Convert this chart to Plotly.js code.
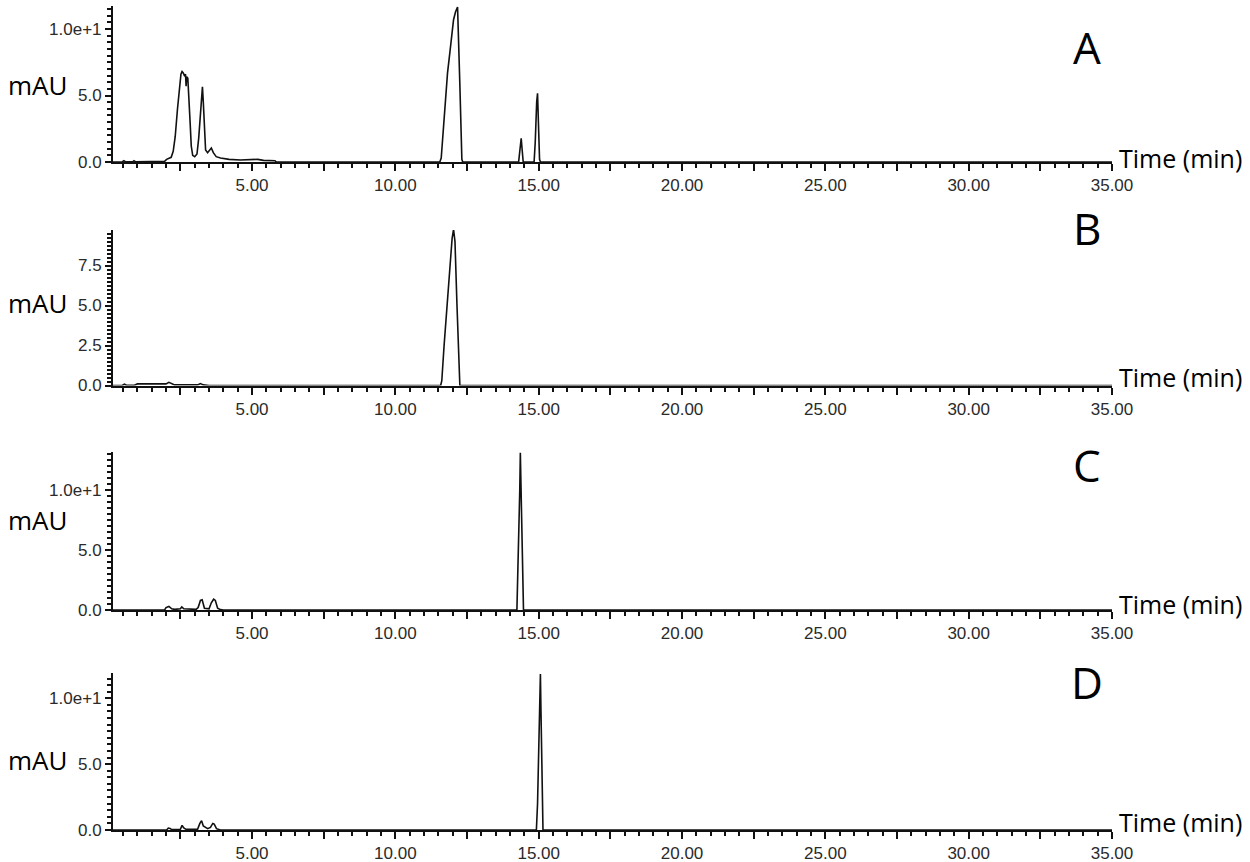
<!DOCTYPE html>
<html>
<head>
<meta charset="utf-8">
<script src="https://cdn.plot.ly/plotly-3.0.1.min.js"></script>
<style>
  html, body { margin: 0; padding: 0; background: #fff; }
  #plot { width: 1250px; height: 862px; }
</style>
</head>
<body>
<div id="plot"></div>
<script>
// Chromatogram data (time in min, absorbance in mAU)
const timeA = [0.15, 0.48, 0.53, 0.58, 0.84, 0.88, 0.93, 1.5, 1.95, 2.02, 2.1, 2.18, 2.25, 2.32, 2.4, 2.47, 2.52, 2.56, 2.6, 2.64, 2.68, 2.7, 2.72, 2.76, 2.8, 2.84, 2.88, 2.93, 3.0, 3.08, 3.14, 3.2, 3.24, 3.27, 3.3, 3.34, 3.38, 3.45, 3.52, 3.58, 3.65, 3.75, 3.9, 4.2, 4.6, 5.0, 5.2, 5.4, 5.8, 5.85, 11.55, 11.6, 11.67, 11.74, 11.82, 11.91, 12.03, 12.1, 12.17, 12.25, 12.32, 12.35, 14.3, 14.34, 14.39, 14.42, 14.46, 14.84, 14.88, 14.93, 14.96, 14.99, 15.03, 15.06, 35];
const absA = [0, 0.02, 0.1, 0.02, 0.02, 0.1, 0.02, 0.03, 0.05, 0.2, 0.3, 0.35, 0.8, 1.9, 4.0, 5.8, 6.6, 6.8, 6.7, 6.5, 6.6, 5.7, 6.4, 6.3, 5.0, 3.0, 1.2, 0.5, 0.4, 0.6, 1.8, 4.0, 5.4, 5.65, 4.5, 2.0, 0.9, 0.7, 0.9, 1.05, 0.7, 0.4, 0.3, 0.2, 0.15, 0.15, 0.2, 0.12, 0.1, 0, 0, 0.3, 2.4, 4.66, 6.7, 8.4, 10.7, 11.3, 11.65, 5.8, 0.2, 0, 0, 0.8, 1.78, 1.0, 0, 0, 1.5, 4.5, 5.16, 3.0, 0.2, 0, 0];

const timeB = [0.15, 0.48, 0.55, 0.62, 0.9, 1.0, 1.5, 2.0, 2.1, 2.2, 2.3, 3.1, 3.2, 3.3, 3.5, 11.58, 11.62, 11.7, 11.8, 11.9, 11.98, 12.03, 12.08, 12.15, 12.22, 12.25, 35];
const absB = [0, 0.02, 0.08, 0.02, 0.02, 0.1, 0.1, 0.1, 0.2, 0.12, 0.04, 0.04, 0.12, 0.04, 0, 0, 0.3, 2.5, 4.9, 7.3, 9.2, 9.76, 9.0, 5.0, 1.0, 0, 0];

const timeC = [0.15, 1.95, 2.0, 2.1, 2.2, 2.3, 2.5, 2.55, 2.62, 2.7, 3.05, 3.12, 3.2, 3.26, 3.34, 3.5, 3.58, 3.66, 3.72, 3.8, 3.9, 4.0, 14.24, 14.27, 14.31, 14.34, 14.36, 14.38, 14.41, 14.44, 14.47, 35];
const absC = [0, 0, 0.2, 0.3, 0.1, 0.05, 0.1, 0.25, 0.1, 0.1, 0.05, 0.2, 0.8, 0.85, 0.15, 0.1, 0.6, 0.9, 0.8, 0.15, 0.03, 0, 0, 3, 6, 10, 13.1, 10, 6, 3, 0, 0];

const timeD = [0.15, 2.02, 2.08, 2.14, 2.2, 2.5, 2.56, 2.62, 2.7, 3.1, 3.18, 3.24, 3.3, 3.45, 3.55, 3.63, 3.68, 3.76, 3.9, 14.92, 14.96, 15.0, 15.03, 15.06, 15.08, 15.1, 15.13, 15.15, 35];
const absD = [0, 0, 0.15, 0.12, 0.03, 0.05, 0.35, 0.15, 0.05, 0.05, 0.5, 0.7, 0.3, 0.1, 0.2, 0.5, 0.45, 0.1, 0, 0, 2, 6, 9.5, 11.85, 9, 5, 1.5, 0, 0];

const panelLabels = ["A", "B", "C", "D"];
// x: long ticks every 2.5 min, labels only on whole 5 min
const xLabelAlias = { "2.50": " ", "7.50": " ", "12.50": " ", "17.50": " ", "22.50": " ", "27.50": " ", "32.50": " " };
const yLabelAlias = { "10.0": "1.0e+1" };

const H = 862;
// pixel placement of each panel: top of y axis, x-axis line, y max, y steps
const panels = [
  { t: timeA, y: absA, top: 6, bottom: 162, ymax: 11.73, dtick: 5, minor: 0.5, mau: 85, lab: 47, time: 158 },
  { t: timeB, y: absB, top: 230, bottom: 385.5, ymax: 9.72, dtick: 2.5, minor: 0.25, mau: 303, lab: 228, time: 377 },
  { t: timeC, y: absC, top: 452, bottom: 610, ymax: 13.17, dtick: 5, minor: 0.5, mau: 520, lab: 465, time: 604 },
  { t: timeD, y: absD, top: 673, bottom: 830, ymax: 11.92, dtick: 5, minor: 0.5, mau: 760, lab: 682, time: 822 },
];

const tickFont = { family: "Liberation Sans, Arial, sans-serif", size: 17, color: "#2a2a2a" };
const minorTicks = (step) => ({ dtick: step, ticks: "outside", ticklen: 4, tickwidth: 1.5, tickcolor: "#111" });

const traces = [];
const annotations = [];
const layout = {
  width: 1250,
  height: H,
  margin: { l: 113, r: 138, t: 0, b: 0 },
  paper_bgcolor: "#fff",
  plot_bgcolor: "#fff",
  showlegend: false,
  hovermode: false,
};

panels.forEach((p, i) => {
  const n = i === 0 ? "" : String(i + 1);
  traces.push({
    x: p.t,
    y: p.y,
    type: "scatter",
    mode: "lines",
    line: { color: "#111", width: 1.6 },
    xaxis: "x" + n,
    yaxis: "y" + n,
  });

  layout["xaxis" + n] = {
    domain: [0, 1],
    anchor: "y" + n,
    range: [0.15, 35],
    showgrid: false,
    zeroline: false,
    showline: true,
    linecolor: "#111",
    linewidth: 2,
    ticks: "outside",
    ticklen: 7,
    tickwidth: 2,
    tickcolor: "#111",
    tickmode: "linear",
    tick0: 0,
    dtick: 2.5,
    tickformat: ".2f",
    labelalias: xLabelAlias,
    tickfont: tickFont,
    minor: minorTicks(0.5),
  };

  layout["yaxis" + n] = {
    domain: [(H - p.bottom) / H, (H - p.top) / H],
    anchor: "x" + n,
    range: [0, p.ymax],
    showgrid: false,
    zeroline: false,
    showline: true,
    linecolor: "#111",
    linewidth: 2,
    ticks: "outside",
    ticklen: 6,
    tickwidth: 2,
    tickcolor: "#111",
    tickmode: "linear",
    tick0: 0,
    dtick: p.dtick,
    tickformat: ".1f",
    labelalias: yLabelAlias,
    tickfont: tickFont,
    minor: minorTicks(p.minor),
  };

  annotations.push({
    text: "mAU", xref: "paper", yref: "paper",
    x: (37 - 113) / 999, y: (H - p.mau) / H,
    xanchor: "center", yanchor: "middle", showarrow: false,
    font: { family: "Open Sans, sans-serif", size: 26, color: "#000" },
  });
  annotations.push({
    text: panelLabels[i], xref: "paper", yref: "paper",
    x: (1087 - 113) / 999, y: (H - p.lab) / H,
    xanchor: "center", yanchor: "middle", showarrow: false,
    font: { family: "Open Sans, sans-serif", size: 44, color: "#000" },
  });
  annotations.push({
    text: "Time (min)", xref: "paper", yref: "paper",
    x: (1117 - 113) / 999, y: (H - p.time) / H,
    xanchor: "left", yanchor: "middle", showarrow: false,
    font: { family: "Open Sans, sans-serif", size: 25, color: "#000" },
  });
});

layout.annotations = annotations;

Plotly.newPlot("plot", traces, layout, { displayModeBar: false });
</script>
</body>
</html>
